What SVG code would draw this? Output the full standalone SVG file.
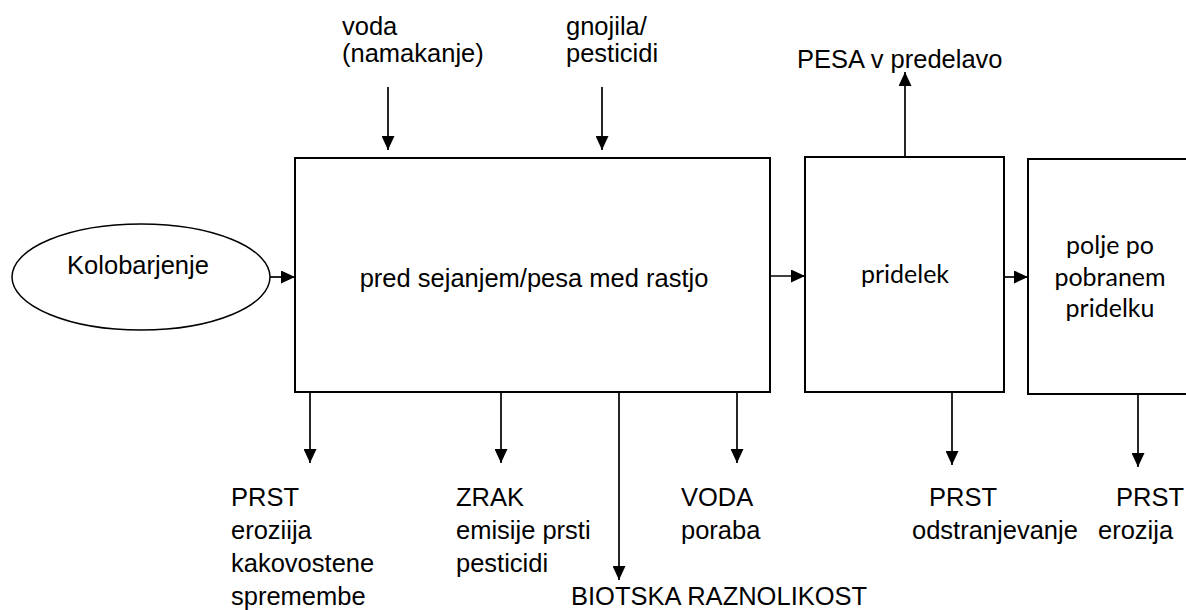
<svg xmlns="http://www.w3.org/2000/svg" width="1186" height="610" viewBox="0 0 1186 610">
<defs>
<marker id="ah" markerUnits="userSpaceOnUse" markerWidth="15" markerHeight="13" refX="14" refY="6.5" orient="auto">
<path d="M0,0 L14,6.5 L0,13 Z" fill="#000"/>
</marker>
<style>
.box{fill:#fff;stroke:#000;stroke-width:2}
.ln{fill:none;stroke:#000;stroke-width:1.7;marker-end:url(#ah)}
.t{font-family:"Liberation Sans",Arial,sans-serif;font-size:25.5px;fill:#000}
.c{font-family:Lato,"Noto Sans",sans-serif;font-size:25px;fill:#000}
</style>
</defs>
<rect width="1186" height="610" fill="#fff"/>
<g id="connectors">
<line class="ln" x1="388" y1="87" x2="388" y2="150"/>
<line class="ln" x1="602" y1="87" x2="602" y2="150"/>
<line class="ln" x1="270" y1="277" x2="295" y2="277"/>
<line class="ln" x1="770" y1="276" x2="805" y2="276"/>
<line class="ln" x1="1004" y1="277" x2="1028" y2="277"/>
<line class="ln" x1="905" y1="157" x2="905" y2="72"/>
<line class="ln" x1="310" y1="392" x2="310" y2="463"/>
<line class="ln" x1="501" y1="392" x2="501" y2="463"/>
<line class="ln" x1="619" y1="392" x2="619" y2="580"/>
<line class="ln" x1="737" y1="392" x2="737" y2="463"/>
<line class="ln" x1="952" y1="392" x2="952" y2="465"/>
<line class="ln" x1="1138" y1="394" x2="1138" y2="467"/>
</g>
<g id="kolobarjenje">
<ellipse cx="141" cy="277" rx="129" ry="53" fill="#fff" stroke="#000" stroke-width="1.5"/>
<text class="t" x="138" y="274" text-anchor="middle">Kolobarjenje</text>
</g>
<g id="main">
<rect class="box" x="295" y="158" width="475" height="234"/>
<text class="t" x="534" y="287" text-anchor="middle">pred sejanjem/pesa med rastjo</text>
</g>
<g id="pridelek">
<rect class="box" x="805" y="157" width="199" height="235"/>
<text class="c" x="905" y="283" text-anchor="middle">pridelek</text>
</g>
<g id="polje">
<rect class="box" x="1028" y="159" width="170" height="235"/>
<text class="c" x="1110" y="254" text-anchor="middle">polje po</text>
<text class="c" x="1110" y="286" text-anchor="middle">pobranem</text>
<text class="c" x="1110" y="317" text-anchor="middle">pridelku</text>
</g>
<g id="input-voda">
<text class="t" x="342" y="35">voda</text>
<text class="t" x="342" y="62">(namakanje)</text>
</g>
<g id="input-gnojila">
<text class="t" x="566" y="35">gnojila/</text>
<text class="t" x="566" y="62">pesticidi</text>
</g>
<g id="output-pesa">
<text class="t" x="797" y="68">PESA v predelavo</text>
</g>
<g id="output-prst1">
<text class="t" x="231" y="506">PRST</text>
<text class="t" x="231" y="539">eroziija</text>
<text class="t" x="231" y="572">kakovostene</text>
<text class="t" x="231" y="605">spremembe</text>
</g>
<g id="output-zrak">
<text class="t" x="456" y="506">ZRAK</text>
<text class="t" x="456" y="539">emisije prsti</text>
<text class="t" x="456" y="572">pesticidi</text>
</g>
<g id="output-biotska">
<text class="t" x="571" y="605">BIOTSKA RAZNOLIKOST</text>
</g>
<g id="output-voda">
<text class="t" x="681" y="506">VODA</text>
<text class="t" x="681" y="539">poraba</text>
</g>
<g id="output-prst2">
<text class="t" x="929" y="506">PRST</text>
<text class="t" x="912" y="539">odstranjevanje</text>
</g>
<g id="output-prst3">
<text class="t" x="1116" y="506">PRST</text>
<text class="t" x="1098" y="539">erozija</text>
</g>
</svg>
